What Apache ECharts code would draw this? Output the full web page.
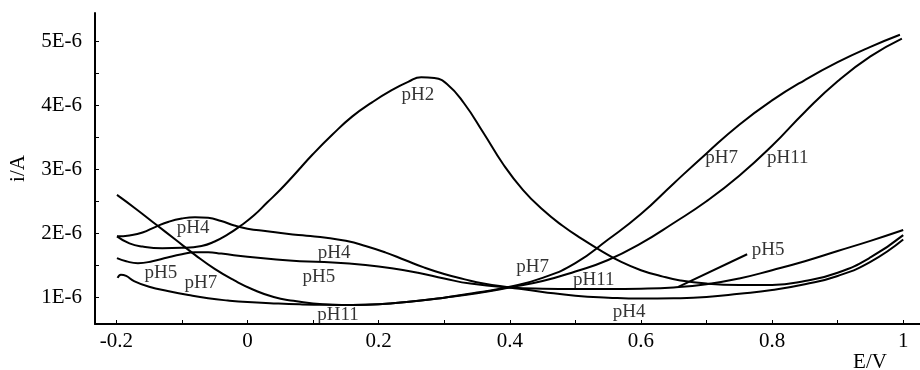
<!DOCTYPE html>
<html>
<head>
<meta charset="utf-8">
<script src="https://cdn.jsdelivr.net/npm/echarts@6/dist/echarts.min.js"></script>
<style>
html,body{margin:0;padding:0;background:#fff;}
#chart{width:920px;height:370px;}
</style>
</head>
<body>
<div id="chart"></div>
<script>
// Current values in units of 1E-6 A, potential in V
const pH2 = [[-0.199,1.95],[-0.18,1.84],[-0.16,1.79],[-0.13,1.765],[-0.1,1.77],[-0.07,1.8],[-0.05,1.87],[-0.03,1.98],[-0.01,2.12],[0.01,2.28],[0.03,2.48],[0.05,2.68],[0.07,2.9],[0.1,3.24],[0.13,3.55],[0.16,3.83],[0.19,4.05],[0.22,4.24],[0.245,4.37],[0.265,4.445],[0.285,4.43],[0.305,4.33],[0.33,4.04],[0.36,3.57],[0.39,3.08],[0.42,2.68],[0.45,2.37],[0.48,2.12],[0.51,1.91],[0.54,1.72],[0.57,1.55],[0.6,1.42],[0.63,1.33],[0.66,1.26],[0.7,1.21],[0.75,1.19],[0.8,1.19],[0.85,1.25],[0.9,1.38],[0.95,1.62],[1.0,1.97]];
const pH4 = [[-0.199,1.95],[-0.18,1.965],[-0.16,2.01],[-0.14,2.1],[-0.12,2.18],[-0.1,2.23],[-0.08,2.25],[-0.06,2.24],[-0.04,2.19],[-0.02,2.12],[0.0,2.07],[0.03,2.03],[0.06,1.99],[0.09,1.96],[0.12,1.93],[0.15,1.88],[0.18,1.8],[0.21,1.7],[0.24,1.58],[0.27,1.46],[0.3,1.36],[0.33,1.28],[0.36,1.21],[0.4,1.15],[0.45,1.08],[0.5,1.02],[0.55,0.99],[0.6,0.975],[0.65,0.98],[0.7,1.0],[0.75,1.05],[0.8,1.11],[0.85,1.2],[0.9,1.33],[0.95,1.55],[1.0,1.9]];
const pH5 = [[-0.199,1.61],[-0.185,1.56],[-0.167,1.53],[-0.145,1.56],[-0.122,1.62],[-0.1,1.67],[-0.08,1.70],[-0.06,1.70],[-0.04,1.68],[0.0,1.63],[0.04,1.59],[0.08,1.56],[0.13,1.54],[0.18,1.5],[0.22,1.45],[0.26,1.38],[0.3,1.29],[0.34,1.21],[0.4,1.15],[0.45,1.13],[0.5,1.125],[0.55,1.125],[0.6,1.13],[0.65,1.15],[0.7,1.2],[0.75,1.29],[0.8,1.42],[0.85,1.56],[0.9,1.72],[0.95,1.88],[1.0,2.05]];
const pH7 = [[-0.199,2.60],[-0.17,2.38],[-0.14,2.14],[-0.11,1.9],[-0.08,1.66],[-0.05,1.44],[-0.02,1.26],[0.01,1.11],[0.04,1.0],[0.07,0.94],[0.1,0.9],[0.13,0.88],[0.16,0.875],[0.2,0.885],[0.25,0.93],[0.3,0.99],[0.35,1.07],[0.4,1.16],[0.45,1.3],[0.5,1.53],[0.55,1.9],[0.6,2.3],[0.65,2.78],[0.7,3.25],[0.75,3.7],[0.8,4.08],[0.85,4.4],[0.9,4.68],[0.95,4.92],[0.995,5.11]];
const pH11 = [[-0.198,1.30],[-0.193,1.35],[-0.185,1.33],[-0.173,1.25],[-0.15,1.16],[-0.12,1.09],[-0.09,1.03],[-0.06,0.98],[-0.03,0.945],[0.0,0.92],[0.04,0.9],[0.08,0.885],[0.12,0.877],[0.16,0.875],[0.2,0.885],[0.25,0.93],[0.3,0.99],[0.35,1.06],[0.4,1.15],[0.45,1.25],[0.5,1.4],[0.55,1.58],[0.6,1.84],[0.65,2.16],[0.7,2.5],[0.75,2.9],[0.8,3.37],[0.85,3.9],[0.9,4.38],[0.95,4.77],[0.998,5.05]];
const pH5Leader = [[0.657,1.16],[0.762,1.67]];

// Curve labels: [E, i, text]
const curveLabels = [[0.26,4.17,'pH2'],[0.723,3.18,'pH7'],[0.824,3.18,'pH11'],[-0.083,2.08,'pH4'],[0.132,1.69,'pH4'],[-0.132,1.38,'pH5'],[-0.071,1.22,'pH7'],[0.109,1.31,'pH5'],[0.138,0.72,'pH11'],[0.435,1.47,'pH7'],[0.528,1.27,'pH11'],[0.582,0.765,'pH4'],[0.794,1.74,'pH5']];

// Axis ticks and labels
const xTickValues = [-0.2,-0.1,0,0.1,0.2,0.3,0.4,0.5,0.6,0.7,0.8,0.9,1.0];
const xLabelValues = [-0.2,0,0.2,0.4,0.6,0.8,1.0];
const xLabelTexts = ['-0.2','0','0.2','0.4','0.6','0.8','1'];
const yTickValues = [1,1.5,2,2.5,3,3.5,4,4.5,5];
const yLabelValues = [1,2,3,4,5];
const yLabelTexts = ['1E-6','2E-6','3E-6','4E-6','5E-6'];

const FONT = 'Liberation Serif';
const chart = echarts.init(document.getElementById('chart'), null, {renderer:'canvas'});

function lineSeries(name, data){
  return {name, type:'line', data, smooth:0.5, showSymbol:false, symbol:'none',
    lineStyle:{color:'#000', width:2}, z:2, silent:true};
}
function lookup(vals, texts, v){
  for (let i=0;i<vals.length;i++){ if (Math.abs(vals[i]-v)<1e-6) return texts[i]; }
  return '';
}

chart.setOption({
  animation:false,
  backgroundColor:'#fff',
  grid:{left:94, right:0, top:13, bottom:46, containLabel:false},
  xAxis:{type:'value', min:-0.2325, max:1.0256,
    axisLine:{show:true, onZero:false, lineStyle:{color:'#000', width:2}},
    axisTick:{show:true, inside:true, length:4, customValues:xTickValues, lineStyle:{color:'#000', width:1}},
    axisLabel:{show:true, customValues:xLabelValues, margin:7, color:'#000', fontFamily:FONT, fontSize:21,
      formatter:v=>lookup(xLabelValues,xLabelTexts,v)},
    splitLine:{show:false}},
  yAxis:{type:'value', min:0.577, max:5.45,
    name:'i/A', nameLocation:'middle', nameRotate:90, nameGap:66,
    nameTextStyle:{color:'#000', fontFamily:FONT, fontSize:21},
    axisLine:{show:true, onZero:false, lineStyle:{color:'#000', width:2}},
    axisTick:{show:true, inside:true, length:4, customValues:yTickValues, lineStyle:{color:'#000', width:1}},
    axisLabel:{show:true, customValues:yLabelValues, margin:13, color:'#000', fontFamily:FONT, fontSize:21,
      formatter:v=>lookup(yLabelValues,yLabelTexts,v)},
    splitLine:{show:false}},
  graphic:[{type:'text', x:870, y:362, style:{text:'E/V', fill:'#000', font:'21px "Liberation Serif"', textAlign:'center', textVerticalAlign:'middle'}}],
  series:[
    lineSeries('pH2', pH2), lineSeries('pH4', pH4), lineSeries('pH5', pH5),
    lineSeries('pH7', pH7), lineSeries('pH11', pH11),
    {type:'line', data:pH5Leader, showSymbol:false, symbol:'none', lineStyle:{color:'#000', width:2}, silent:true},
    {type:'scatter', data:curveLabels, symbolSize:0, silent:true, z:5,
      label:{show:true, position:'inside', color:'#000', fontFamily:FONT, fontSize:19,
        formatter:p=>p.data[2]}}
  ]
});
</script>
</body>
</html>
